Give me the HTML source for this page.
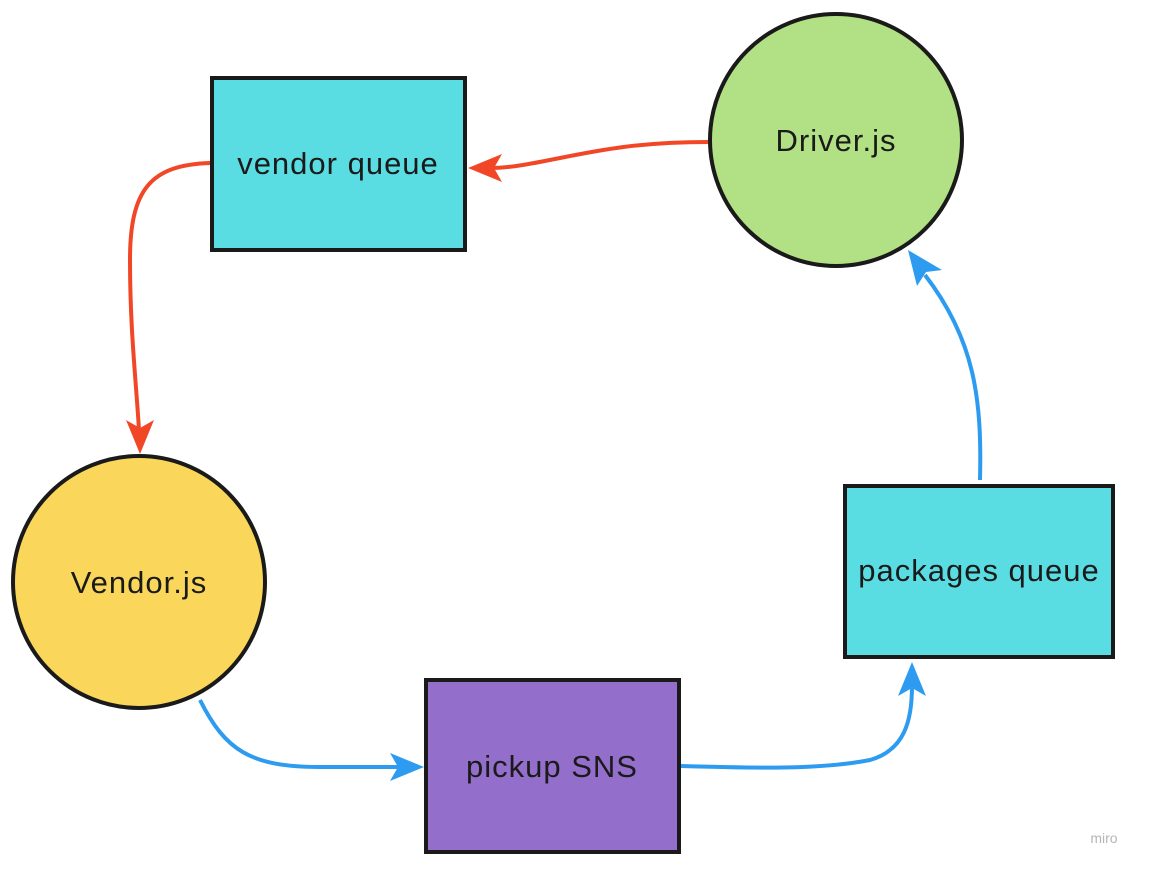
<!DOCTYPE html>
<html><head><meta charset="utf-8"><style>
html,body{margin:0;padding:0;background:#fff;}
svg{display:block;}
text{font-family:"Liberation Sans",sans-serif;font-size:31px;letter-spacing:1px;fill:#1a1a1a;}
</style></head><body>
<svg width="1149" height="869" viewBox="0 0 1149 869" xmlns="http://www.w3.org/2000/svg">
<!-- red connectors -->
<path d="M708,142 C640,142 600,150 560,158 C530,164 510,168 490,168" fill="none" stroke="#f24726" stroke-width="4"/>
<polygon points="468,168 502,154 494,168 502,182" fill="#f24726"/>
<path d="M210,163 C150,165 130,190 130,260 C130,330 136,380 139,430" fill="none" stroke="#f24726" stroke-width="4"/>
<polygon points="140,454 126,420 140,428 154,420" fill="#f24726"/>
<!-- blue connectors -->
<path d="M200,700 C225,750 250,767 320,767 L400,767" fill="none" stroke="#2d9bf0" stroke-width="4"/>
<polygon points="424,767 390,753 398,767 390,781" fill="#2d9bf0"/>
<path d="M681,766 C750,768 820,770 870,760 C905,750 912,720 912,686" fill="none" stroke="#2d9bf0" stroke-width="4"/>
<polygon points="912,662 898,696 912,688 926,696" fill="#2d9bf0"/>
<path d="M980,480 C982,400 975,340 925,275" fill="none" stroke="#2d9bf0" stroke-width="4"/>
<polygon points="908,250 917,286 926,272 942,270" fill="#2d9bf0"/>
<!-- nodes -->
<rect x="212" y="78" width="253" height="172" fill="#5adde2" stroke="#1a1a1a" stroke-width="4"/>
<text x="338" y="174" text-anchor="middle">vendor queue</text>
<circle cx="836" cy="140" r="126" fill="#b2e084" stroke="#1a1a1a" stroke-width="4"/>
<text x="836" y="151" text-anchor="middle">Driver.js</text>
<circle cx="139" cy="582" r="126" fill="#fad75a" stroke="#1a1a1a" stroke-width="4"/>
<text x="139" y="593" text-anchor="middle">Vendor.js</text>
<rect x="426" y="680" width="253" height="172" fill="#936ecb" stroke="#1a1a1a" stroke-width="4"/>
<text x="552" y="777" text-anchor="middle">pickup SNS</text>
<rect x="845" y="486" width="268" height="171" fill="#5adde2" stroke="#1a1a1a" stroke-width="4"/>
<text x="979" y="581" text-anchor="middle">packages queue</text>
<text x="1104" y="843" text-anchor="middle" style="font-size:14px;letter-spacing:0;fill:#b5b5b5">miro</text>
</svg>
</body></html>
